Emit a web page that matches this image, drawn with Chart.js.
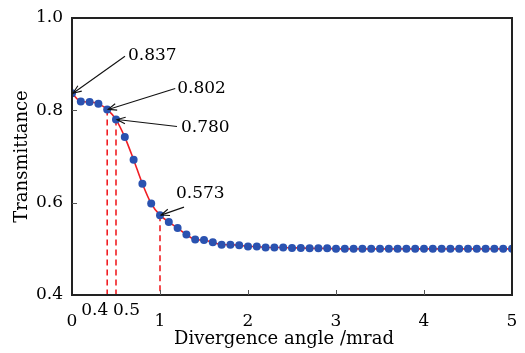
<!DOCTYPE html>
<html>
<head>
<meta charset="utf-8">
<script src="https://cdn.jsdelivr.net/npm/chart.js@4/dist/chart.umd.min.js"></script>
<style>
html,body{margin:0;padding:0;background:#fff;overflow:hidden;}
#wrap{width:525px;height:353px;}
canvas{display:block;}
</style>
</head>
<body>
<div id="wrap"><canvas id="c" width="525" height="353" style="width:525px;height:353px"></canvas></div>
<script>
// Divergence angle (mrad)
const angles = [0.0,0.1,0.2,0.3,0.4,0.5,0.6,0.7,0.8,0.9,
  1.0,1.1,1.2,1.3,1.4,1.5,1.6,1.7,1.8,1.9,
  2.0,2.1,2.2,2.3,2.4,2.5,2.6,2.7,2.8,2.9,
  3.0,3.1,3.2,3.3,3.4,3.5,3.6,3.7,3.8,3.9,
  4.0,4.1,4.2,4.3,4.4,4.5,4.6,4.7,4.8,4.9,5.0];
// Transmittance
const transmittance = [0.837,0.819,0.818,0.814,0.802,0.780,0.742,0.693,0.641,0.598,
  0.573,0.558,0.545,0.531,0.520,0.519,0.514,0.509,0.509,0.508,
  0.505,0.505,0.503,0.503,0.503,0.502,0.502,0.501,0.501,0.501,
  0.500,0.500,0.500,0.500,0.500,0.500,0.500,0.500,0.500,0.500,
  0.500,0.500,0.500,0.500,0.500,0.500,0.500,0.500,0.500,0.500,0.500];
// Annotated points
const markX = [0, 0.4, 0.5, 1.0];
const markY = [0.837, 0.802, 0.780, 0.573];
const markLabels = ['0.837', '0.802', '0.780', '0.573'];
// Dashed guide lines (x positions)
const guideX = [0.4, 0.5, 1.0];
const guideY = [0.802, 0.780, 0.573];
// Extra x tick labels
const extraTickValues = [0.4, 0.5];
const extraTickLabels = ['0.4', '0.5'];
const xTicks = [0, 1, 2, 3, 4, 5];
const yTicks = [0.4, 0.6, 0.8, 1.0];
const xTitle = 'Divergence angle /mrad';
const yTitle = 'Transmittance';

const FONT = "'DejaVu Serif', serif";

const overlay = {
  id: 'overlay',
  beforeDatasetsDraw(chart) {
    const {ctx, scales:{x, y}, chartArea:a} = chart;
    ctx.save();
    ctx.strokeStyle = '#f01e24';
    ctx.lineWidth = 1.6;
    ctx.setLineDash([6, 4]);
    guideX.forEach((gx, i) => {
      const px = x.getPixelForValue(gx);
      ctx.beginPath();
      ctx.moveTo(px, y.getPixelForValue(guideY[i]));
      ctx.lineTo(px, a.bottom);
      ctx.stroke();
    });
    ctx.restore();
  },
  afterDraw(chart) {
    const {ctx, scales:{x, y}, chartArea:a} = chart;
    ctx.save();
    // frame
    ctx.strokeStyle = '#222';
    ctx.lineWidth = 2;
    ctx.strokeRect(a.left, a.top, a.right - a.left, a.bottom - a.top);
    // inward ticks
    ctx.lineWidth = 1;
    ctx.strokeStyle = '#555';
    xTicks.slice(1, -1).forEach(v => {
      const px = Math.round(x.getPixelForValue(v)) + 0.5;
      ctx.beginPath(); ctx.moveTo(px, a.bottom); ctx.lineTo(px, a.bottom - 5); ctx.stroke();
    });
    yTicks.slice(1, -1).forEach(v => {
      const py = Math.round(y.getPixelForValue(v)) + 0.5;
      ctx.beginPath(); ctx.moveTo(a.left, py); ctx.lineTo(a.left + 5, py); ctx.stroke();
    });
    // extra tick labels
    ctx.fillStyle = '#000';
    ctx.font = '17px ' + FONT;
    ctx.textBaseline = 'middle';
    extraTickValues.forEach((v, i) => {
      const px = x.getPixelForValue(v);
      ctx.textAlign = i === 0 ? 'right' : 'left';
      ctx.fillText(extraTickLabels[i], px + (i === 0 ? 1 : -3), a.bottom + 16);
    });
    // x axis title (slightly left of centre as in the original)
    ctx.font = '18px ' + FONT;
    ctx.textAlign = 'center';
    ctx.fillText(xTitle, (a.left + a.right) / 2 - 8, 339);
    // annotations: text offset and arrow start offset relative to point
    ctx.font = '17px ' + FONT;
    const offs = [
      {tx: 56, ty: -38, sx: 53, sy: -37},
      {tx: 70, ty: -21, sx: 68, sy: -21},
      {tx: 65, ty: 8, sx: 61, sy: 7},
      {tx: 16, ty: -22, sx: 24, sy: -8}
    ];
    ctx.textAlign = 'left';
    ctx.strokeStyle = '#111';
    ctx.lineWidth = 1.1;
    markX.forEach((mx, i) => {
      const px = x.getPixelForValue(mx), py = y.getPixelForValue(markY[i]);
      const o = offs[i];
      const sx = px + o.sx, sy = py + o.sy;
      const ex = px + 1, ey = py;
      ctx.beginPath(); ctx.moveTo(sx, sy); ctx.lineTo(ex, ey); ctx.stroke();
      const ang = Math.atan2(ey - sy, ex - sx);
      const hl = 9, ha = 0.38;
      ctx.beginPath();
      ctx.moveTo(ex - hl * Math.cos(ang - ha), ey - hl * Math.sin(ang - ha));
      ctx.lineTo(ex, ey);
      ctx.lineTo(ex - hl * Math.cos(ang + ha), ey - hl * Math.sin(ang + ha));
      ctx.stroke();
      ctx.fillText(markLabels[i], px + o.tx, py + o.ty);
    });
    ctx.restore();
  }
};

new Chart(document.getElementById('c'), {
  type: 'line',
  data: {
    datasets: [{
      data: angles.map((a, i) => ({x: a, y: transmittance[i]})),
      borderColor: '#f01e24',
      borderWidth: 1.6,
      pointBackgroundColor: '#2a52b0',
      pointBorderColor: '#2a52b0',
      pointBorderWidth: 0,
      pointRadius: 4,
      pointStyle: 'circle',
      tension: 0.2,
      cubicInterpolationMode: 'monotone'
    }]
  },
  options: {
    responsive: false,
    animation: false,
    layout: {padding: {top: 18, right: 13, left: 0, bottom: 0}},
    plugins: {legend: {display: false}, tooltip: {enabled: false}},
    scales: {
      x: {
        type: 'linear', min: 0, max: 5,
        afterBuildTicks: s => { s.ticks = xTicks.map(v => ({value: v})); },
        afterFit: s => { s.height = 58; s.paddingLeft = 0; s.paddingRight = 0; },
        grid: {display: false, drawTicks: false},
        border: {display: false},
        ticks: {color: '#000', font: {family: FONT, size: 17}, padding: 16, maxRotation: 0,
          callback: v => String(v)},
        title: {display: false, text: xTitle}
      },
      y: {
        min: 0.4, max: 1.0,
        afterBuildTicks: s => { s.ticks = yTicks.map(v => ({value: v})); },
        afterFit: s => { s.width = 72; s.paddingTop = 0; s.paddingBottom = 0; },
        grid: {display: false, drawTicks: false},
        border: {display: false},
        ticks: {color: '#000', font: {family: FONT, size: 17}, padding: 9,
          callback: v => v.toFixed(1)},
        title: {display: true, text: yTitle, color: '#000',
          font: {family: FONT, size: 18}, padding: {top: 12, bottom: 0}}
      }
    }
  },
  plugins: [overlay]
});
</script>
</body>
</html>
